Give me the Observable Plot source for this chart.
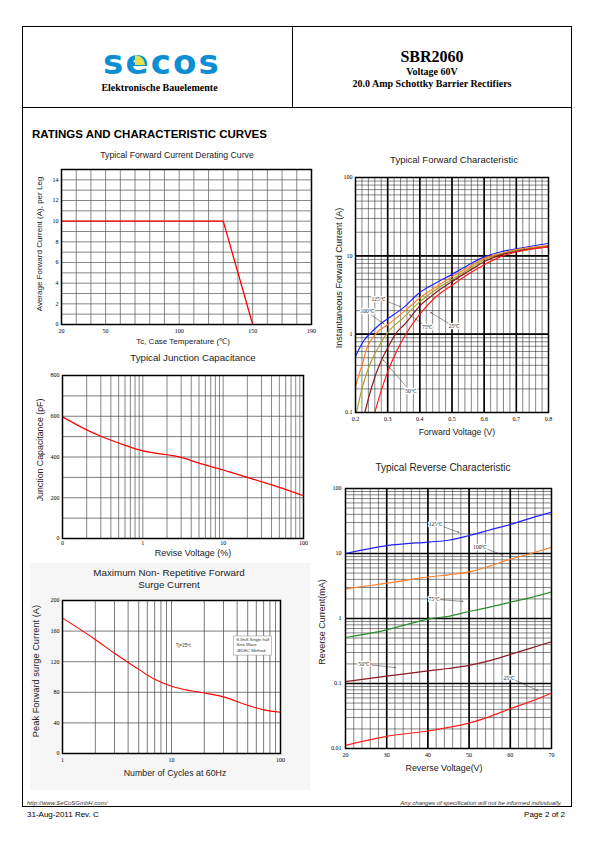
<!DOCTYPE html>
<html>
<head>
<meta charset="utf-8">
<script src="https://cdn.jsdelivr.net/npm/d3@7"></script>
<script src="https://cdn.jsdelivr.net/npm/@observablehq/plot@0.6"></script>
<style>
html,body{margin:0;padding:0;background:#fff;}
#page{position:relative;width:595px;height:842px;overflow:hidden;background:#fff;font-family:"Liberation Sans",Arial,sans-serif;color:#000;}
.t{position:absolute;white-space:nowrap;transform:translate(-50%,-50%);line-height:1;}
.tl{position:absolute;white-space:nowrap;transform:translate(0,-50%);line-height:1;}
.tr{position:absolute;white-space:nowrap;transform:translate(-100%,-50%);line-height:1;}
.rot{transform:translate(-50%,-50%) rotate(-90deg);}
.bar{position:absolute;background:#000;}
.serifb{font-family:"Liberation Serif","Times New Roman",serif;font-weight:bold;}
#page svg{position:absolute;}
</style>
</head>
<body>
<div id="page">
  <div style="position:absolute;left:22px;top:26px;width:550px;height:781px;border:1.5px solid #000;box-sizing:border-box;"></div>
  <div class="bar" style="left:22px;top:106.5px;width:550px;height:1.5px;"></div>
  <div class="bar" style="left:291.8px;top:26px;width:1.5px;height:81px;"></div>

  <div class="t" style="left:162px;top:61.7px;font-family:'DejaVu Sans',sans-serif;font-weight:bold;font-size:34px;color:#0b8fd2;letter-spacing:2.2px;">secos</div>
  <div style="position:absolute;left:135px;top:55px;width:10px;height:10px;background:#e6e04a;border-top-right-radius:10px;"></div>
  <div class="t serifb" style="left:159.5px;top:87.5px;font-size:10px;">Elektronische Bauelemente</div>

  <div class="t serifb" style="left:432px;top:57px;font-size:16px;">SBR2060</div>
  <div class="t serifb" style="left:432px;top:71.5px;font-size:10px;">Voltage 60V</div>
  <div class="t serifb" style="left:432px;top:84px;font-size:10px;">20.0 Amp Schottky Barrier Rectifiers</div>

  <div class="tl" style="left:32px;top:135px;font-size:11.5px;font-weight:bold;">RATINGS AND CHARACTERISTIC CURVES</div>

  <div style="position:absolute;left:30px;top:563px;width:280px;height:227px;background:#f6f6f6;"></div>

  <div class="t" style="left:177px;top:155px;font-size:8.7px;color:#222;">Typical Forward Current Derating Curve</div>
  <div class="t" style="left:183px;top:342px;font-size:8px;color:#222;">Tc, Case Temperature (℃)</div>
  <div class="t rot" style="left:40px;top:244px;font-size:8px;color:#222;">Average Forward Current (A), per Leg</div>

  <div class="t" style="left:193px;top:358px;font-size:9.7px;color:#222;">Typical Junction Capacitance</div>
  <div class="t" style="left:193px;top:553px;font-size:9px;color:#222;">Revise Voltage (%)</div>
  <div class="t rot" style="left:40px;top:450px;font-size:8.8px;color:#222;">Junction Capacitance (pF)</div>

  <div class="t" style="left:169px;top:573px;font-size:9.8px;color:#222;">Maximum Non- Repetitive Forward</div>
  <div class="t" style="left:169px;top:585px;font-size:9.8px;color:#222;">Surge Current</div>
  <div class="t" style="left:175px;top:773px;font-size:8.8px;color:#222;">Number of Cycles at 60Hz</div>
  <div class="t rot" style="left:37px;top:671px;font-size:9.3px;color:#222;">Peak Forward surge Current (A)</div>

  <div class="t" style="left:454px;top:160px;font-size:9.5px;color:#222;">Typical Forward Characteristic</div>
  <div class="t" style="left:457px;top:432px;font-size:8.6px;color:#222;">Forward Voltage (V)</div>
  <div class="t rot" style="left:340px;top:278px;font-size:9.1px;color:#222;">Instantaneous Forward Current (A)</div>

  <div class="t" style="left:443px;top:468px;font-size:10px;color:#222;">Typical Reverse Characteristic</div>
  <div class="t" style="left:444px;top:768px;font-size:8.9px;color:#222;">Reverse Voltage(V)</div>
  <div class="t rot" style="left:322px;top:622px;font-size:9px;color:#222;">Reverse Current(mA)</div>

  <div class="tl" style="left:27px;top:802.5px;font-size:6px;font-style:italic;color:#333;">http://www.SeCoSGmbH.com/</div>
  <div class="tr" style="left:562px;top:802.5px;font-size:6px;font-style:italic;color:#333;">Any changes of specification will not be informed individually.</div>
  <div class="tl" style="left:27px;top:814.5px;font-size:8px;">31-Aug-2011 Rev. C</div>
  <div class="tr" style="left:565px;top:814.5px;font-size:8px;">Page 2 of 2</div>
</div>
<script>
// ---------- Data ----------
// Derating curve
const derTemp = [20, 130, 150];
const derCurrent = [10, 10, 0];
const derXTicks = [20, 50, 100, 150, 190];
const derYTicks = [0, 2, 4, 6, 8, 10, 12, 14];

// Junction capacitance
const capVoltage = [0.1, 0.2, 0.3, 0.5, 1, 2, 3, 5, 10, 20, 50, 100];
const capPF = [597, 533, 502, 469, 430, 411, 398, 370, 336, 300, 251, 210];
const capXTicks = [0.1, 1, 10, 100];
const capXTickLabels = ["0", "1", "10", "100"];
const capYTicks = [0, 200, 400, 600, 800];

// Surge current
const surgeCycles = [1, 1.5, 2, 3, 4, 5, 7, 10, 15, 20, 30, 50, 70, 100];
const surgeAmps = [177, 161, 149, 131, 119, 110, 97, 88, 82, 79, 74, 63, 57, 54];
const surgeXTicks = [1, 10, 100];
const surgeYTicks = [0, 40, 80, 120, 160, 200];
const surgeNote = ["Tj=25℃"];
const surgeNoteX = [12.9];
const surgeNoteY = [141];
const surgeBoxLines = ["8.3mS Single half", "Sine Wave", "JEDEC Method"];
const surgeBoxLineY = [148.7, 141.7, 134.8];
const surgeBoxX = [37.3, 83.8];
const surgeBoxY = [128, 153];

// Forward characteristic
const fwdXTicks = [0.2, 0.3, 0.4, 0.5, 0.6, 0.7, 0.8];
const fwdYTicks = [0.1, 1, 10, 100];
const fwdV125 = [0.2, 0.226, 0.247, 0.278, 0.3, 0.35, 0.4, 0.45, 0.5, 0.55, 0.6, 0.65, 0.7, 0.8];
const fwdI125 = [0.52, 0.83, 1.03, 1.36, 1.57, 2.2, 3.4, 4.5, 5.8, 7.6, 9.7, 11.2, 12.3, 14.4];
const fwdV100 = [0.2, 0.21, 0.221, 0.236, 0.252, 0.27, 0.3, 0.35, 0.4, 0.45, 0.5, 0.55, 0.6, 0.65, 0.7, 0.8];
const fwdI100 = [0.214, 0.296, 0.41, 0.67, 0.88, 1.08, 1.32, 1.93, 2.9, 4.0, 5.4, 7.1, 9.3, 10.7, 12.0, 13.5];
const fwdV75 = [0.203, 0.22, 0.236, 0.25, 0.28, 0.3, 0.35, 0.4, 0.45, 0.5, 0.55, 0.6, 0.65, 0.7, 0.8];
const fwdI75 = [0.1, 0.2, 0.33, 0.46, 0.79, 1.05, 1.64, 2.6, 3.7, 5.0, 6.7, 8.9, 10.5, 11.7, 13.2];
const fwdV50 = [0.229, 0.25, 0.28, 0.3, 0.33, 0.35, 0.4, 0.45, 0.5, 0.55, 0.6, 0.65, 0.7, 0.8];
const fwdI50 = [0.1, 0.21, 0.46, 0.67, 1.08, 1.3, 2.3, 3.4, 4.7, 6.3, 8.4, 10.2, 11.4, 13.0];
const fwdV25 = [0.26, 0.28, 0.3, 0.33, 0.35, 0.4, 0.45, 0.5, 0.55, 0.6, 0.65, 0.7, 0.8];
const fwdI25 = [0.1, 0.19, 0.33, 0.63, 0.9, 1.8, 3.0, 4.2, 5.8, 7.7, 9.7, 11.2, 13.0];
const fwdLabelText = ["125℃", "100℃", "75℃", "25℃", "50℃"];
const fwdLabelV = [0.2706, 0.2363, 0.423, 0.506, 0.371];
const fwdLabelI = [2.8, 1.98, 1.24, 1.28, 0.188];
const fwdArrowV1 = [0.2966, 0.2488, 0.4077, 0.491, 0.356];
const fwdArrowI1 = [2.63, 1.75, 1.36, 1.36, 0.218];
const fwdArrowV2 = [0.34, 0.288, 0.368, 0.4336, 0.286];
const fwdArrowI2 = [2.24, 1.36, 1.77, 1.89, 0.47];

// Reverse characteristic
const revXTicks = [20, 30, 40, 50, 60, 70];
const revYTicks = [0.01, 0.1, 1, 10, 100];
const revV = [20, 30, 40, 45, 50, 55, 60, 65, 70];
const revI125 = [10, 13.2, 15, 16, 18.9, 23, 28, 35, 43];
const revI100 = [2.85, 3.5, 4.35, 4.7, 5.2, 6.4, 8.2, 10, 12.5];
const revI75 = [0.51, 0.67, 0.98, 1.08, 1.28, 1.5, 1.78, 2.1, 2.55];
const revI50 = [0.107, 0.13, 0.156, 0.17, 0.19, 0.225, 0.28, 0.35, 0.44];
const revI25 = [0.0112, 0.0154, 0.0186, 0.0211, 0.0246, 0.031, 0.041, 0.053, 0.071];
const revLabelText = ["125℃", "100℃", "75℃", "50℃", "25℃"];
const revLabelV = [41.8, 52.6, 41.4, 24.4, 59.6];
const revLabelI = [28.4, 12.3, 2.0, 0.196, 0.119];
const revArrowV1 = [43.7, 54.4, 43.0, 26.4, 61.2];
const revArrowI1 = [25.9, 11.6, 1.95, 0.192, 0.112];
const revArrowV2 = [47.5, 58.2, 48.5, 32.1, 66.7];
const revArrowI2 = [21.2, 9.5, 1.83, 0.176, 0.078];

// ---------- Styles ----------
const serif = "'Liberation Serif','Times New Roman',serif";
const seriesColors = {"125": "#1f1fff", "100": "#ff7f27", "75fwd": "#a3a324", "75rev": "#2a8c2a", "50": "#8b1a22", "25": "#ff1f1f"};

// ---------- Helpers ----------
const page = document.getElementById("page");
function put(svg, left, top) { svg.style.left = left + "px"; svg.style.top = top + "px"; page.appendChild(svg); }
function rows(xs, ys) { return xs.map((x, i) => ({x, y: ys[i]})); }
function logGrid(e0, e1) {
  const out = [];
  for (let e = e0; e < e1; e++) for (let k = 1; k < 10; k++) out.push(+(k * Math.pow(10, e)).toPrecision(3));
  out.push(Math.pow(10, e1));
  return out;
}
const baseStyle = {fontFamily: serif, fontSize: "6px", background: "transparent", overflow: "visible", color: "#000"};
const axisOpts = {tickSize: 0, label: null, fontSize: 6, fontFamily: serif};

// ---------- Chart 1: Derating ----------
put(Plot.plot({
  width: 300, height: 190, marginLeft: 41, marginRight: 9, marginTop: 9, marginBottom: 26,
  style: baseStyle,
  x: {domain: [20, 190]},
  y: {domain: [0, 15]},
  marks: [
    Plot.frame({fill: "#fff"}),
    Plot.ruleX(d3.range(20, 191, 10), {stroke: "#555", strokeWidth: 0.7}),
    Plot.ruleY(d3.range(0, 16, 1), {stroke: "#555", strokeWidth: 0.7}),
    Plot.line(rows(derTemp, derCurrent), {x: "x", y: "y", stroke: "#ff0000", strokeWidth: 1.3}),
    Plot.frame({stroke: "#000", strokeWidth: 1.5}),
    Plot.axisX({...axisOpts, ticks: derXTicks, tickPadding: 4}),
    Plot.axisY({...axisOpts, ticks: derYTicks, tickPadding: 3})
  ]
}), 20, 160);

// ---------- Chart 2: Capacitance ----------
put(Plot.plot({
  width: 300, height: 190, marginLeft: 42, marginRight: 17, marginTop: 10, marginBottom: 17,
  style: baseStyle,
  x: {type: "log", domain: [0.1, 100]},
  y: {domain: [0, 800]},
  marks: [
    Plot.frame({fill: "#fff"}),
    Plot.ruleX(logGrid(-1, 2), {stroke: "#555", strokeWidth: 0.7}),
    Plot.ruleY(d3.range(0, 801, 100), {stroke: "#444", strokeWidth: 0.7}),
    Plot.line(rows(capVoltage, capPF), {x: "x", y: "y", stroke: "#ff0000", strokeWidth: 1.2, curve: "catmull-rom"}),
    Plot.frame({stroke: "#000", strokeWidth: 1.5}),
    Plot.axisX({...axisOpts, ticks: capXTicks, tickPadding: 2, tickFormat: d => capXTickLabels[capXTicks.indexOf(d)]}),
    Plot.axisY({...axisOpts, ticks: capYTicks, tickPadding: 3, tickFormat: d => String(d)})
  ]
}), 20, 365);

// ---------- Chart 3: Surge ----------
put(Plot.plot({
  width: 280, height: 180, marginLeft: 42, marginRight: 20, marginTop: 10, marginBottom: 17,
  style: baseStyle,
  x: {type: "log", domain: [1, 100]},
  y: {domain: [0, 200]},
  marks: [
    Plot.frame({fill: "#fff"}),
    Plot.ruleX(logGrid(0, 2), {stroke: "#444", strokeWidth: 0.7}),
    Plot.ruleY(surgeYTicks, {stroke: "#444", strokeWidth: 0.7}),
    Plot.line(rows(surgeCycles, surgeAmps), {x: "x", y: "y", stroke: "#ff0000", strokeWidth: 1.1, curve: "catmull-rom"}),
    Plot.rect([0], {x1: () => surgeBoxX[0], x2: () => surgeBoxX[1], y1: () => surgeBoxY[0], y2: () => surgeBoxY[1], fill: "#fff", stroke: "#888", strokeWidth: 0.5}),
    Plot.text(surgeBoxLines, {x: () => 39.4, y: (d, i) => surgeBoxLineY[i], text: d => d, textAnchor: "start", fontSize: 4.2, fontFamily: "'Liberation Sans',Arial,sans-serif", fill: "#333"}),
    Plot.text(surgeNote, {x: (d, i) => surgeNoteX[i], y: (d, i) => surgeNoteY[i], text: d => d, fontSize: 4.5, fontFamily: "'Liberation Sans',Arial,sans-serif", fill: "#333"}),
    Plot.frame({stroke: "#000", strokeWidth: 1.5}),
    Plot.axisX({...axisOpts, ticks: surgeXTicks, tickPadding: 4, tickFormat: d => String(d)}),
    Plot.axisY({...axisOpts, ticks: surgeYTicks, tickPadding: 3, tickFormat: d => String(d)})
  ]
}), 20, 590);

// ---------- Chart 4: Forward ----------
const fwdSeries = [
  {v: fwdV125, i: fwdI125, c: seriesColors["125"]},
  {v: fwdV100, i: fwdI100, c: seriesColors["100"]},
  {v: fwdV75, i: fwdI75, c: seriesColors["75fwd"]},
  {v: fwdV50, i: fwdI50, c: seriesColors["50"]},
  {v: fwdV25, i: fwdI25, c: seriesColors["25"]}
];
put(Plot.plot({
  width: 230, height: 262, marginLeft: 25, marginRight: 12, marginTop: 9, marginBottom: 18,
  style: baseStyle,
  x: {domain: [0.2, 0.8]},
  y: {type: "log", domain: [0.1, 100]},
  marks: [
    Plot.frame({fill: "#fff"}),
    Plot.ruleX(d3.range(10, 41).map(k => k / 50), {stroke: "#222", strokeWidth: 0.55}),
    Plot.ruleY(logGrid(-1, 2), {stroke: "#222", strokeWidth: 0.55}),
    Plot.ruleX([0.3, 0.4, 0.5, 0.6, 0.7], {stroke: "#000", strokeWidth: 1.6}),
    Plot.ruleY([1, 10], {stroke: "#000", strokeWidth: 1.6}),
    ...fwdSeries.map(s => Plot.line(rows(s.v, s.i), {x: "x", y: "y", stroke: s.c, strokeWidth: 1.2, curve: "monotone-x", clip: true})),
    Plot.arrow(fwdLabelText, {x1: (d, i) => fwdArrowV1[i], y1: (d, i) => fwdArrowI1[i], x2: (d, i) => fwdArrowV2[i], y2: (d, i) => fwdArrowI2[i], stroke: "#333", strokeWidth: 0.5, headLength: 3}),
    Plot.text(fwdLabelText, {x: (d, i) => fwdLabelV[i], y: (d, i) => fwdLabelI[i], text: d => d, fontSize: 5.5, fontFamily: serif, fill: "#222", stroke: "#fff", strokeWidth: 2.5, paintOrder: "stroke"}),
    Plot.frame({stroke: "#000", strokeWidth: 1.5}),
    Plot.axisX({...axisOpts, ticks: fwdXTicks, tickPadding: 4, tickFormat: d3.format(".1f")}),
    Plot.axisY({...axisOpts, ticks: fwdYTicks, tickPadding: 3, tickFormat: d => String(d)})
  ]
}), 330, 168);

// ---------- Chart 5: Reverse ----------
const revSeries = [
  {i: revI125, c: seriesColors["125"]},
  {i: revI100, c: seriesColors["100"]},
  {i: revI75, c: seriesColors["75rev"]},
  {i: revI50, c: seriesColors["50"]},
  {i: revI25, c: seriesColors["25"]}
];
put(Plot.plot({
  width: 240, height: 286, marginLeft: 25, marginRight: 9, marginTop: 8, marginBottom: 18,
  style: baseStyle,
  x: {domain: [20, 70]},
  y: {type: "log", domain: [0.01, 100]},
  marks: [
    Plot.frame({fill: "#fff"}),
    Plot.ruleX(d3.range(20, 71, 2), {stroke: "#222", strokeWidth: 0.55}),
    Plot.ruleY(logGrid(-2, 2), {stroke: "#222", strokeWidth: 0.55}),
    Plot.ruleX([30, 40, 50, 60], {stroke: "#000", strokeWidth: 1.6}),
    Plot.ruleY([0.1, 1, 10], {stroke: "#000", strokeWidth: 1.6}),
    ...revSeries.map(s => Plot.line(rows(revV, s.i), {x: "x", y: "y", stroke: s.c, strokeWidth: 1.2, curve: "catmull-rom", clip: true})),
    Plot.arrow(revLabelText, {x1: (d, i) => revArrowV1[i], y1: (d, i) => revArrowI1[i], x2: (d, i) => revArrowV2[i], y2: (d, i) => revArrowI2[i], stroke: "#333", strokeWidth: 0.5, headLength: 3}),
    Plot.text(revLabelText, {x: (d, i) => revLabelV[i], y: (d, i) => revLabelI[i], text: d => d, fontSize: 5.5, fontFamily: serif, fill: "#222", stroke: "#fff", strokeWidth: 2.5, paintOrder: "stroke"}),
    Plot.frame({stroke: "#000", strokeWidth: 1.5}),
    Plot.axisX({...axisOpts, ticks: revXTicks, tickPadding: 4, tickFormat: d => String(d)}),
    Plot.axisY({...axisOpts, ticks: revYTicks, tickPadding: 4, tickFormat: d => String(d)})
  ]
}), 320, 480);
</script>
</body>
</html>
